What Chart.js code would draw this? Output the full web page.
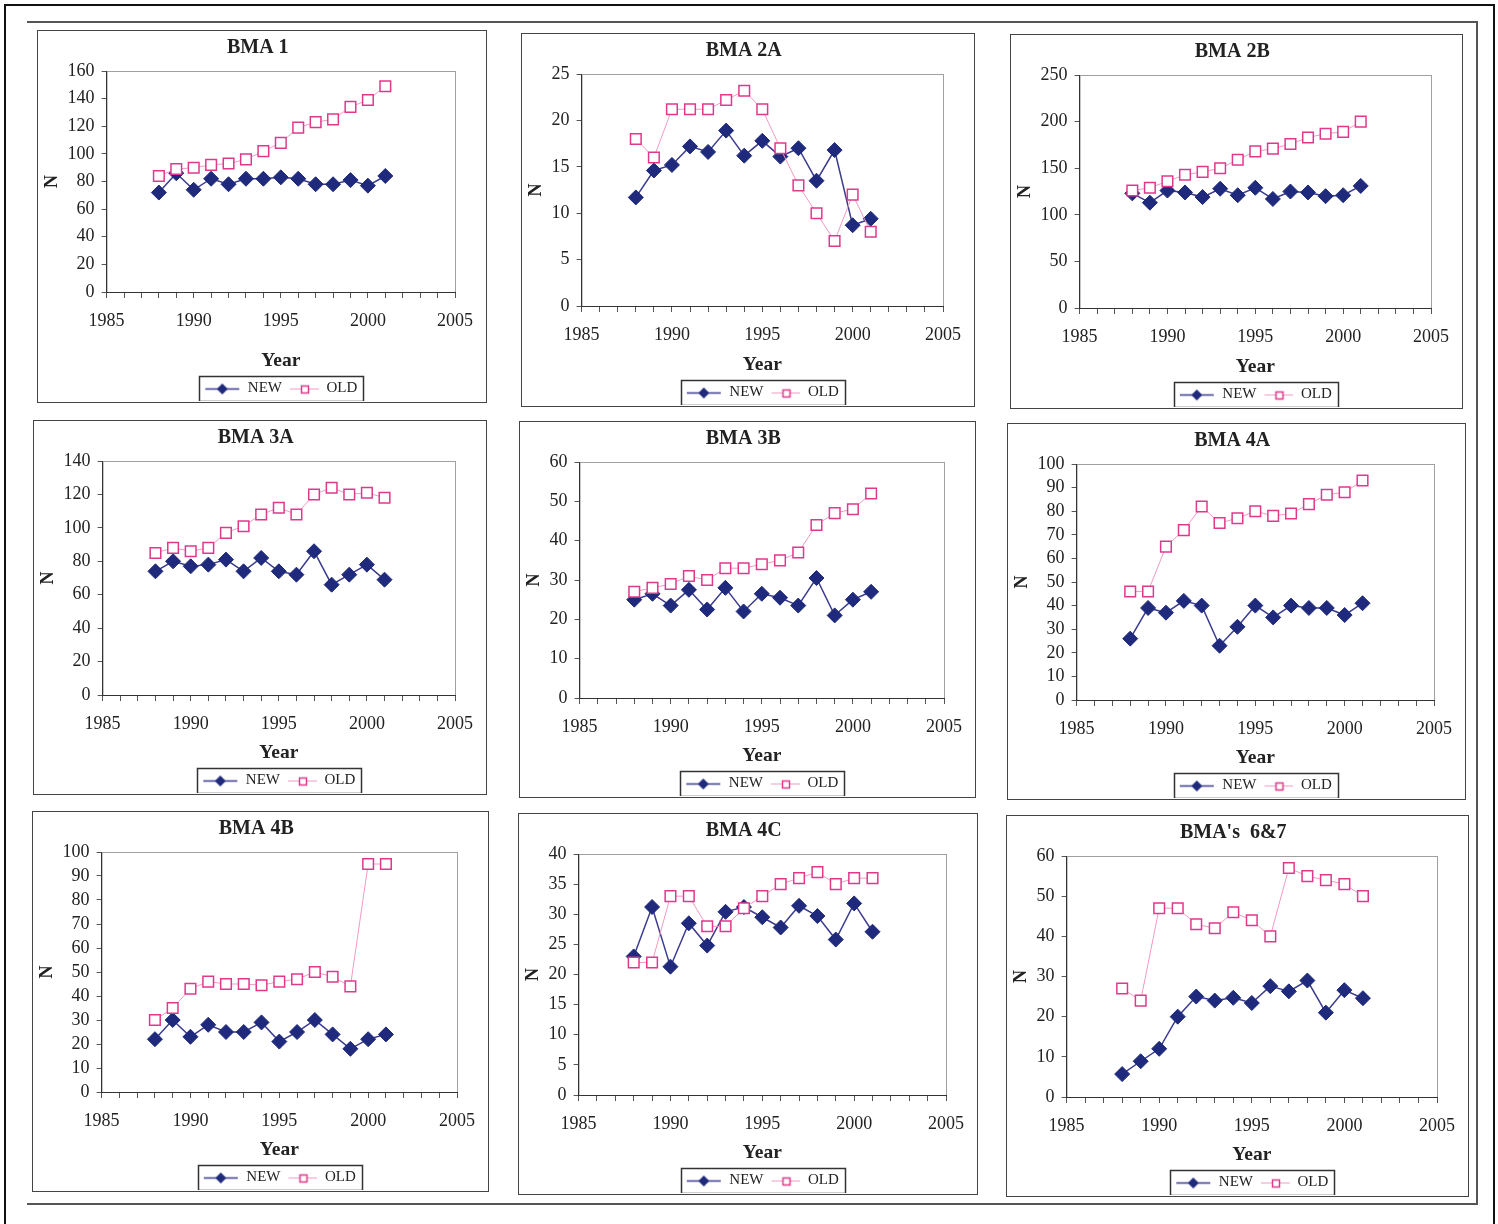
<!DOCTYPE html>
<html>
<head>
<meta charset="utf-8">
<script src="https://cdn.jsdelivr.net/npm/chart.js@4"></script>
<style>
  html, body { margin: 0; padding: 0; background: #fff; }
  body { width: 1498px; height: 1224px; position: relative; overflow: hidden; }
  .outer { position: absolute; left: 4px; top: 4px; width: 1487px; height: 1240px; border: 2px solid #111; }
  .inner { position: absolute; left: 27px; top: 21px; width: 1449px; height: 1180px;
           border-top: 2px solid #555; border-right: 2px solid #555; border-bottom: 2px solid #555; }
  .panel { position: absolute; border: 1.5px solid #444; box-sizing: border-box; background: #fff; }
  .panel canvas { display: block; }
</style>
</head>
<body>
<div class="outer"></div>
<div class="inner"></div>
<div id="grid"></div>
<script>
const years = [1988, 1989, 1990, 1991, 1992, 1993, 1994, 1995, 1996, 1997, 1998, 1999, 2000, 2001];
const titles = ['BMA 1', 'BMA 2A', 'BMA 2B', 'BMA 3A', 'BMA 3B', 'BMA 4A', 'BMA 4B', 'BMA 4C', "BMA's  6&7"];

const newBma1 = [72, 86, 74, 82, 78, 82, 82, 83, 82, 78, 78, 81, 77, 84];
const oldBma1 = [84, 89, 90, 92, 93, 96, 102, 108, 119, 123, 125, 134, 139, 149];
const newBma2A = [11.7, 14.6, 15.2, 17.2, 16.6, 18.9, 16.2, 17.8, 16.1, 17.0, 13.5, 16.8, 8.7, 9.4];
const oldBma2A = [18, 16, 21.2, 21.2, 21.2, 22.2, 23.2, 21.2, 17, 13, 10, 7, 12, 8];
const newBma2B = [123, 113, 126, 124, 119, 128, 121, 129, 117, 125, 124, 120, 121, 131];
const oldBma2B = [126, 129, 136, 143, 146, 150, 159, 168, 171, 176, 183, 187, 189, 200];
const newBma3A = [74, 80, 77, 78, 81, 74, 82, 74, 72, 86, 66, 72, 78, 69];
const oldBma3A = [85, 88, 86, 88, 97, 101, 108, 112, 108, 120, 124, 120, 121, 118];
const newBma3B = [25, 26.5, 23.5, 27.5, 22.5, 28, 22, 26.5, 25.5, 23.5, 30.5, 21, 25, 27];
const oldBma3B = [27, 28, 29, 31, 30, 33, 33, 34, 35, 37, 44, 47, 48, 52];
const newBma4A = [26, 39, 37, 42, 40, 23, 31, 40, 35, 40, 39, 39, 36, 41];
const oldBma4A = [46, 46, 65, 72, 82, 75, 77, 80, 78, 79, 83, 87, 88, 93];
const newBma4B = [22, 30, 23, 28, 25, 25, 29, 21, 25, 30, 24, 18, 22, 24];
const oldBma4B = [30, 35, 43, 46, 45, 45, 44.5, 46, 47, 50, 48, 44, 95, 95];
const newBma4C = [23, 31.2, 21.3, 28.5, 24.8, 30.4, 31.2, 29.5, 27.8, 31.4, 29.7, 25.8, 31.8, 27.1];
const oldBma4C = [22, 22, 33, 33, 28, 28, 31, 33, 35, 36, 37, 35, 36, 36];
const newBma67 = [5.7, 8.9, 12, 20, 25, 24, 24.7, 23.4, 27.6, 26.3, 29, 21, 26.6, 24.6];
const oldBma67 = [27, 24, 47, 47, 43, 42, 46, 44, 40, 57, 55, 54, 53, 50];

const newSeries = [newBma1, newBma2A, newBma2B, newBma3A, newBma3B, newBma4A, newBma4B, newBma4C, newBma67];
const oldSeries = [oldBma1, oldBma2A, oldBma2B, oldBma3A, oldBma3B, oldBma4A, oldBma4B, oldBma4C, oldBma67];
const yMax = [160, 25, 250, 140, 60, 100, 100, 40, 60];
const yStep = [20, 5, 50, 20, 10, 10, 10, 5, 10];

// panel boxes: left, top, width, height
const boxes = [
  [37, 30, 450, 373], [521, 33, 454, 374], [1010, 34, 453, 375],
  [33, 420, 454, 375], [519, 421, 457, 377], [1007, 423, 459, 377],
  [32, 811, 457, 381], [518, 813, 460, 382], [1006, 815, 463, 382]
];
// height of the x axis block (ticks + "Year"), BMA 1 has a shorter plot
const xAxisHeight = [88, 78, 78, 77, 77, 77, 77, 77, 77];

const NEW_COLOR = '#1f2a7c';
const NEW_LINE = '#3b3b8f';
const OLD_COLOR = '#e0388a';
const OLD_LINE = '#f29ac2';
const SERIF = '"Liberation Serif", "DejaVu Serif", serif';

// legend icons: line with a marker in the middle, excel style
const makeIcon = (kind) => {
  const c = document.createElement('canvas');
  c.width = 36; c.height = 16;
  const ctx = c.getContext('2d');
  ctx.strokeStyle = kind === 'new' ? NEW_LINE : OLD_LINE;
  ctx.lineWidth = kind === 'new' ? 1.5 : 1;
  ctx.beginPath();
  if (kind === 'new') { ctx.moveTo(1, 8.5); ctx.lineTo(35, 8.5); }
  else { ctx.moveTo(7, 8.5); ctx.lineTo(36, 8.5); }
  ctx.stroke();
  if (kind === 'new') {
    ctx.fillStyle = NEW_COLOR;
    ctx.beginPath();
    ctx.moveTo(18, 3); ctx.lineTo(23.5, 8.5); ctx.lineTo(18, 14); ctx.lineTo(12.5, 8.5);
    ctx.closePath(); ctx.fill();
  } else {
    ctx.fillStyle = '#fff';
    ctx.fillRect(18, 5, 8, 8);
    ctx.strokeStyle = OLD_COLOR; ctx.lineWidth = 1.5;
    ctx.strokeRect(18.5, 5.5, 7, 7);
  }
  return c;
};
const iconNew = makeIcon('new');
const iconOld = makeIcon('old');

const plotFrame = {
  id: 'plotFrame',
  beforeDraw(chart) {
    const a = chart.chartArea;
    const ctx = chart.ctx;
    ctx.save();
    ctx.strokeStyle = '#a0a0a0';
    ctx.lineWidth = 1;
    ctx.strokeRect(a.left + 0.5, a.top + 0.5, a.right - a.left, a.bottom - a.top);
    ctx.restore();
  }
};

const legendFrame = {
  id: 'legendFrame',
  afterDraw(chart) {
    const hb = chart.legend.legendHitBoxes;
    if (!hb || !hb.length) return;
    const left = Math.min(...hb.map(b => b.left)) - 5;
    const right = Math.max(...hb.map(b => b.left + b.width)) + 6;
    const mid = hb[0].top + hb[0].height / 2;
    const ctx = chart.ctx;
    ctx.save();
    ctx.strokeStyle = '#333';
    ctx.lineWidth = 1.5;
    ctx.strokeRect(Math.round(left) + 0.5, Math.round(mid - 12.5) + 0.5, Math.round(right - left), 25);
    ctx.restore();
  }
};

const grid = document.getElementById('grid');

boxes.forEach((b, i) => {
  const div = document.createElement('div');
  div.className = 'panel';
  div.style.left = b[0] + 'px';
  div.style.top = b[1] + 'px';
  div.style.width = b[2] + 'px';
  div.style.height = b[3] + 'px';
  const canvas = document.createElement('canvas');
  div.appendChild(canvas);
  grid.appendChild(div);
  canvas.width = b[2] - 3;
  canvas.height = b[3] - 3;

  new Chart(canvas, {
    type: 'line',
    data: {
      datasets: [{
        label: 'NEW',
        order: 1,
        data: years.map((y, k) => ({ x: y, y: newSeries[i][k] })),
        borderColor: NEW_LINE,
        borderWidth: 1.5,
        pointStyle: 'rectRot',
        pointRadius: 7.5,
        pointBackgroundColor: NEW_COLOR,
        pointBorderColor: NEW_COLOR,
        pointBorderWidth: 1,
        tension: 0
      }, {
        label: 'OLD',
        order: 0,
        data: years.map((y, k) => ({ x: y, y: oldSeries[i][k] })),
        borderColor: OLD_LINE,
        borderWidth: 1,
        pointStyle: 'rect',
        pointRadius: 7.5,
        pointBackgroundColor: '#fff',
        pointBorderColor: OLD_COLOR,
        pointBorderWidth: 1.5,
        tension: 0
      }]
    },
    options: {
      responsive: false,
      animation: false,
      layout: { padding: { left: 1, right: 8.5, top: 0, bottom: -5 } },
      scales: {
        x: {
          type: 'linear',
          min: 1985,
          max: 2005,
          afterFit: (scale) => { scale.height = xAxisHeight[i]; },
          ticks: {
            stepSize: 1,
            autoSkip: false,
            maxRotation: 0,
            padding: 12,
            color: '#222',
            font: { family: SERIF, size: 18 },
            callback: (v) => (v % 5 === 0 ? String(v) : '')
          },
          grid: { drawOnChartArea: false, tickLength: 6, color: '#555' },
          border: { display: true, color: '#333', width: 1 },
          title: {
            display: true, text: 'Year', color: '#222',
            font: { family: SERIF, size: 19.5, weight: 'bold' },
            padding: { top: 4, bottom: 7.5 }
          }
        },
        y: {
          min: 0,
          max: yMax[i],
          ticks: {
            stepSize: yStep[i],
            autoSkip: false,
            padding: 7,
            color: '#222',
            font: { family: SERIF, size: 18 }
          },
          grid: { drawOnChartArea: false, tickLength: 5, color: '#555' },
          border: { display: true, color: '#333', width: 1 },
          title: {
            display: true, text: 'N', color: '#222',
            font: { family: SERIF, size: 18, weight: 'bold' },
            padding: { top: 3, bottom: -3 }
          }
        }
      },
      plugins: {
        title: {
          display: true,
          text: titles[i],
          color: '#222',
          font: { family: SERIF, size: 20, weight: 'bold' },
          padding: { top: 5, bottom: 11 }
        },
        legend: {
          position: 'bottom',
          fullSize: false,
          labels: {
            usePointStyle: true,
            pointStyleWidth: 36,
            padding: 1,
            color: '#222',
            font: { family: SERIF, size: 15 },
            generateLabels: () => [
              { text: 'NEW', pointStyle: iconNew, datasetIndex: 0, fontColor: '#222', lineWidth: 0, strokeStyle: 'transparent', fillStyle: 'transparent' },
              { text: 'OLD', pointStyle: iconOld, datasetIndex: 1, fontColor: '#222', lineWidth: 0, strokeStyle: 'transparent', fillStyle: 'transparent' }
            ]
          }
        },
        tooltip: { enabled: false }
      }
    },
    plugins: [plotFrame, legendFrame]
  });
});
</script>
</body>
</html>
